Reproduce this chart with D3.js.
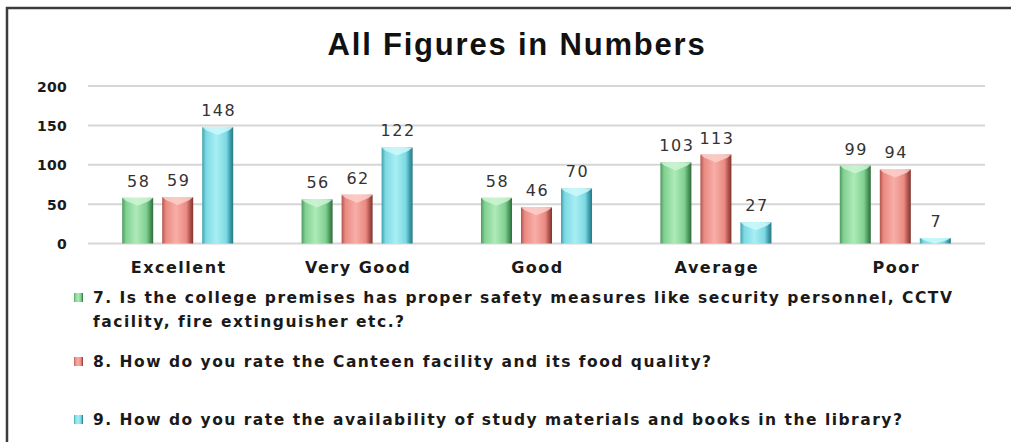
<!DOCTYPE html>
<html>
<head>
<meta charset="utf-8">
<script src="https://cdn.jsdelivr.net/npm/d3@7"></script>
<style>
  html, body { margin: 0; padding: 0; background: #fff; }
  svg { display: block; }
</style>
</head>
<body>
<div id="chart"></div>
<script>
var categories = ["Excellent", "Very Good", "Good", "Average", "Poor"];
var seriesNames = [
  "7. Is the college premises has proper safety measures like security personnel, CCTV|facility, fire extinguisher etc.?",
  "8. How do you rate the Canteen facility and its food quality?",
  "9. How do you rate the availability of study materials and books in the library?"
];
var q7 = [58, 56, 58, 103, 99];
var q8 = [59, 62, 46, 113, 94];
var q9 = [148, 122, 70, 27, 7];
var yTicks = [0, 50, 100, 150, 200];

var series = [q7, q8, q9];
var palettes = [
  { dark: "#2f6b3d", edge: "#4e9a5f", mid: "#80d091", light: "#aeeab8", top: "#cdf5d3" },
  { dark: "#7e3530", edge: "#b1554e", mid: "#ea8a82", light: "#f7aea7", top: "#fbcfca" },
  { dark: "#2b7684", edge: "#3fa0ae", mid: "#7cd9e3", light: "#a8eef4", top: "#cdf8fa" }
];

var width = 1011, height = 442;

var svg = d3.select("#chart").append("svg").attr("width", width).attr("height", height);

// gradients for the bevelled bars
var defs = svg.append("defs");
palettes.forEach(function(p, i) {
  var g = defs.append("linearGradient").attr("id", "grad" + i)
    .attr("x1", "0%").attr("x2", "100%").attr("y1", "0%").attr("y2", "0%");
  [[0, p.edge], [0.12, p.mid], [0.45, p.light], [0.78, p.mid], [0.9, p.edge], [1, p.dark]].forEach(function(s) {
    g.append("stop").attr("offset", s[0] * 100 + "%").attr("stop-color", s[1]);
  });
});

// frame
svg.append("path").attr("d", "M7,442 L7,8 L1011,8")
  .attr("fill", "none").attr("stroke", "#3c3c3c").attr("stroke-width", 2.5);

svg.append("text").attr("x", 517).attr("y", 55)
  .attr("text-anchor", "middle")
  .style("font-family", "'Liberation Sans', Arial, sans-serif")
  .style("font-weight", "bold").style("font-size", "31px")
  .style("letter-spacing", "1.8px").style("fill", "#111")
  .text("All Figures in Numbers");

var y = d3.scaleLinear().domain([0, 200]).range([243.5, 86]);
var x0 = d3.scaleBand().domain(categories).range([88, 985]).paddingInner(0.381).paddingOuter(0.1905);
var x1 = d3.scaleBand().domain(d3.range(series.length)).range([0, x0.bandwidth()]).paddingInner(0.225);

// grid
svg.append("g").selectAll("line").data(yTicks).enter().append("line")
  .attr("x1", 88).attr("x2", 985)
  .attr("y1", function(d) { return y(d); }).attr("y2", function(d) { return y(d); })
  .attr("stroke", "#d6d6d6").attr("stroke-width", 2);

svg.append("g").selectAll("text").data(yTicks).enter().append("text")
  .attr("x", 67).attr("y", function(d) { return y(d) + 5.5; })
  .attr("text-anchor", "end")
  .style("font-family", "'DejaVu Sans', sans-serif")
  .style("font-weight", "bold").style("font-size", "14px")
  .style("letter-spacing", "0.3px").style("fill", "#1a1a1a")
  .text(function(d) { return d; });

// bars
var groups = svg.append("g").selectAll("g").data(categories).enter().append("g")
  .attr("transform", function(d) { return "translate(" + x0(d) + ",0)"; });

series.forEach(function(vals, si) {
  var bw = x1.bandwidth();
  groups.append("rect")
    .attr("x", x1(si)).attr("width", bw)
    .attr("y", function(d, i) { return y(vals[i]); })
    .attr("height", function(d, i) { return y(0) - y(vals[i]); })
    .attr("fill", "url(#grad" + si + ")");

  // top bevel highlight
  groups.append("path")
    .attr("d", function(d, i) {
      var top = y(vals[i]), h = Math.min(8, y(0) - top);
      var xl = x1(si), xr = xl + bw, xm = xl + bw / 2;
      return "M" + xl + "," + top + " L" + xr + "," + top + " L" + (xr - 4) + "," + (top + h * 0.4) +
        " L" + xm + "," + (top + h) + " L" + (xl + 4) + "," + (top + h * 0.4) + "Z";
    })
    .attr("fill", palettes[si].top).attr("opacity", 0.85);

  groups.append("text")
    .attr("x", x1(si) + bw / 2 + 1)
    .attr("y", function(d, i) { return y(vals[i]) - 11; })
    .attr("text-anchor", "middle")
    .style("font-family", "'DejaVu Sans', sans-serif")
    .style("font-size", "16px").style("letter-spacing", "1.5px").style("fill", "#333")
    .text(function(d, i) { return vals[i]; });
});

// category labels
svg.append("g").selectAll("text").data(categories).enter().append("text")
  .attr("x", function(d) { return x0(d) + x0.bandwidth() / 2 + 1; })
  .attr("y", 273)
  .attr("text-anchor", "middle")
  .style("font-family", "'DejaVu Sans', sans-serif")
  .style("font-weight", "bold").style("font-size", "16px")
  .style("letter-spacing", "1.5px").style("fill", "#1a1a1a")
  .text(function(d) { return d; });

// legend
var legendY = [303, 367, 425];
var legend = svg.append("g").selectAll("g").data(seriesNames).enter().append("g")
  .attr("transform", function(d, i) { return "translate(0," + legendY[i] + ")"; });

legend.append("rect").attr("x", 74).attr("y", -10).attr("width", 9).attr("height", 9)
  .attr("fill", function(d, i) { return "url(#grad" + i + ")"; });

legend.append("text")
  .style("font-family", "'DejaVu Sans', sans-serif")
  .style("font-weight", "bold").style("font-size", "15.5px")
  .style("letter-spacing", "1.5px").style("fill", "#1a1a1a")
  .each(function(d) {
    var t = d3.select(this);
    d.split("|").forEach(function(line, li) {
      t.append("tspan").attr("x", 93).attr("y", li * 24).text(line);
    });
  });
</script>
</body>
</html>
